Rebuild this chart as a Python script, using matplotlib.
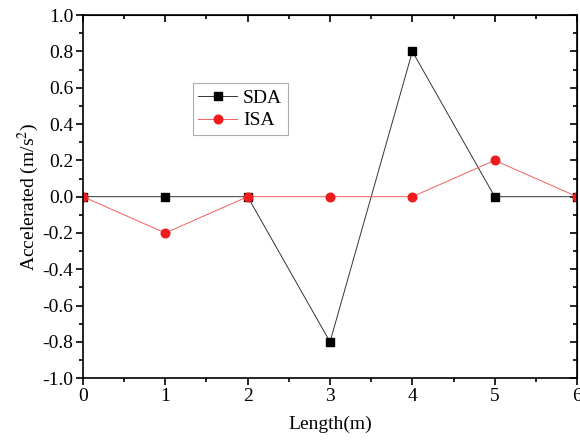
import matplotlib.pyplot as plt
from matplotlib.ticker import MultipleLocator

length = [0, 1, 2, 3, 4, 5, 6]
sda = [0.0, 0.0, 0.0, -0.8, 0.8, 0.0, 0.0]
isa = [0.0, -0.2, 0.0, 0.0, 0.0, 0.2, 0.0]

plt.rcParams['font.family'] = ['Liberation Serif', 'DejaVu Serif']
plt.rcParams['mathtext.fontset'] = 'stix'

fig = plt.figure(figsize=(5.8, 4.46), dpi=100)
ax = fig.add_axes([0.143, 0.152, 0.852, 0.814])

ax.plot(length, sda, color='#333333', lw=0.7, marker='s', ms=5.2, mfc='black', mec='black', label='SDA')
ax.plot(length, isa, color='#f06060', lw=0.7, marker='o', ms=6.2, mfc='#ee1c1c', mec='#ee1c1c', label='ISA')

ax.set_xlim(0, 6)
ax.set_ylim(-1.0, 1.0)
ax.xaxis.set_major_locator(MultipleLocator(1))
ax.xaxis.set_minor_locator(MultipleLocator(0.5))
ax.yaxis.set_major_locator(MultipleLocator(0.2))
ax.yaxis.set_minor_locator(MultipleLocator(0.1))
ax.yaxis.set_major_formatter(lambda v, p: f'{v:.1f}')

ax.tick_params(which='both', direction='out', labelsize=14, width=1.2)
ax.tick_params(which='major', length=5, pad=2)
ax.tick_params(which='minor', length=3)
for s in ax.spines.values():
    s.set_linewidth(1.2)

# mirrored inward ticks on top and right
sx = ax.secondary_xaxis('top')
sx.xaxis.set_major_locator(MultipleLocator(1))
sx.xaxis.set_minor_locator(MultipleLocator(0.5))
sx.tick_params(which='both', direction='in', labeltop=False, width=1.2)
sx.tick_params(which='major', length=5)
sx.tick_params(which='minor', length=3)
sy = ax.secondary_yaxis('right')
sy.yaxis.set_major_locator(MultipleLocator(0.2))
sy.yaxis.set_minor_locator(MultipleLocator(0.1))
sy.tick_params(which='both', direction='in', labelright=False, width=1.2)
sy.tick_params(which='major', length=5)
sy.tick_params(which='minor', length=3)

ax.set_xlabel('Length(m)', fontsize=14, labelpad=8)
ax.set_ylabel('Accelerated (m/s$^2$)', fontsize=14, labelpad=1)

leg = ax.legend(loc='upper left', bbox_to_anchor=(0.222, 0.812), fontsize=14, frameon=True,
                fancybox=False, edgecolor='#999999', borderpad=0.3, handlelength=2.0,
                labelspacing=0.25, handletextpad=0.3, borderaxespad=0)
leg.get_frame().set_linewidth(0.8)

fig.savefig('out.png', dpi=100)
